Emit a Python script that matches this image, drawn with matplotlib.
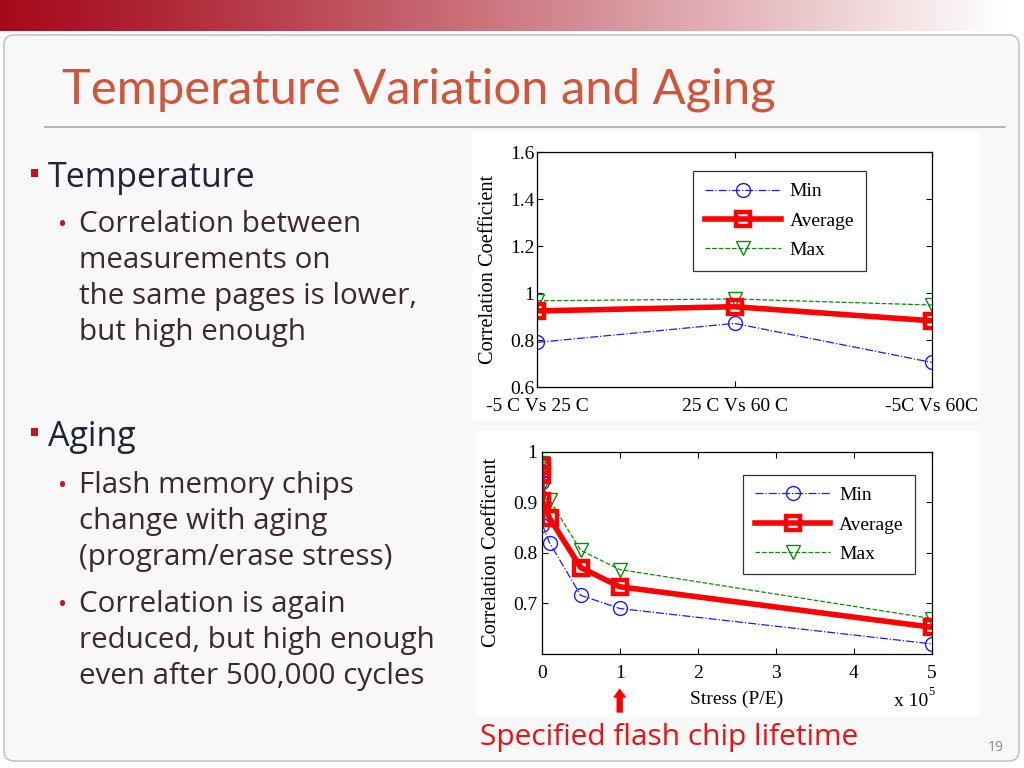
import numpy as np
import matplotlib
matplotlib.use("Agg")
import matplotlib.pyplot as plt
from matplotlib.patches import FancyBboxPatch, Rectangle
from matplotlib.lines import Line2D

# ---------------- data ----------------
temp_categories = ["-5 C Vs 25 C", "25 C Vs 60 C", "-5C Vs 60C"]
temp_min = [0.791, 0.872, 0.706]
temp_avg = [0.925, 0.943, 0.883]
temp_max = [0.968, 0.976, 0.950]
temp_yticks = [0.6, 0.8, 1.0, 1.2, 1.4, 1.6]
temp_yticklabels = ["0.6", "0.8", "1", "1.2", "1.4", "1.6"]

stress_x = [0, 0.001, 0.01, 0.1, 0.5, 1, 5]          # x 10^5 P/E cycles
stress_min = [0.962, 0.940, 0.855, 0.820, 0.716, 0.690, 0.620]
stress_avg = [0.971, 0.954, 0.903, 0.869, 0.771, 0.733, 0.653]
stress_max = [0.978, 0.965, 0.933, 0.905, 0.805, 0.767, 0.670]
stress_xticks = [0, 1, 2, 3, 4, 5]
stress_yticks = [0.7, 0.8, 0.9, 1.0]
stress_yticklabels = ["0.7", "0.8", "0.9", "1"]
lifetime_x = 1

title = "Temperature Variation and Aging"
bullets = [
    (1, "Temperature"),
    (2, "Correlation between"),
    (0, "measurements on"),
    (0, "the same pages is lower,"),
    (0, "but high enough"),
    (1, "Aging"),
    (2, "Flash memory chips"),
    (0, "change with aging"),
    (0, "(program/erase stress)"),
    (2, "Correlation is again"),
    (0, "reduced, but high enough"),
    (0, "even after 500,000 cycles"),
]
bullet_baselines = [187, 232, 268, 304, 340, 446, 493, 529, 565, 612, 648, 684]

W, H = 1024, 768
fig = plt.figure(figsize=(W / 100, H / 100), dpi=100)
fig.patch.set_facecolor("white")

def fx(px):
    return px / W

def fy(py):
    return 1 - py / H

# ---------------- slide background ----------------
bg = fig.add_axes([0, 0, 1, 1], zorder=-10)
bg.set_xlim(0, W)
bg.set_ylim(H, 0)
bg.axis("off")

# gradient bar
grad_ax = fig.add_axes([0, fy(31), 1, 31 / H], zorder=-9)
t = np.linspace(0, 1, 512)
t = np.clip(t / 0.98, 0, 1) ** 1.15
c0 = np.array([165, 10, 28]) / 255
c1 = np.array([1.0, 1.0, 1.0])
img = (c0[None, :] * (1 - t[:, None]) + c1[None, :] * t[:, None])[None, :, :]
grad_ax.imshow(img, aspect="auto", extent=[0, 1, 0, 1])
grad_ax.axis("off")

panel = FancyBboxPatch((4, 35), 1015, 726, boxstyle="round,pad=0,rounding_size=10",
                       facecolor="#f8f8f8", edgecolor="#c4c4c4", linewidth=1.2)
bg.add_patch(panel)
bg.plot([45, 1005], [127, 127], color="#a8a8a8", linewidth=1.2)

# chart backgrounds (white)
bg.add_patch(Rectangle((472, 133), 508, 286, facecolor="white", edgecolor="none"))
bg.add_patch(Rectangle((476, 431), 504, 285, facecolor="white", edgecolor="none"))

# title
fig.text(fx(62), fy(103), title, fontsize=35.2, color="#d0553a",
         family=["Lato", "DejaVu Sans"], va="baseline", ha="left")

# bullets
for (lvl, txt), yb in zip(bullets, bullet_baselines):
    if lvl == 1:
        bg.add_patch(Rectangle((31, yb - 18), 7, 8, facecolor="#c0161e", edgecolor="none"))
        fig.text(fx(48), fy(yb), txt, fontsize=24.5, color="#1f2535",
                 family=["Open Sans", "DejaVu Sans"], va="baseline")
    else:
        if lvl == 2:
            fig.text(fx(58), fy(yb), "\u2022", fontsize=17, color="#c0161e",
                     family=["Open Sans", "DejaVu Sans"], va="baseline")
        fig.text(fx(79), fy(yb), txt, fontsize=21.3, color="#3c2a2a",
                 family=["Open Sans", "DejaVu Sans"], va="baseline")

fig.text(fx(480), fy(745), "Specified flash chip lifetime", fontsize=21.5, color="#ee1111",
         family=["Open Sans", "DejaVu Sans"], va="baseline")
fig.text(fx(1004), fy(751), "19", fontsize=10, color="#8a8a8a",
         family=["Open Sans", "DejaVu Sans"], va="baseline", ha="right")

serif = ["Liberation Serif", "DejaVu Serif"]
blue = "#1a1aff"
red = "#ff0000"
green = "#0a8a0a"

def style_axes(ax):
    ax.tick_params(direction="in", top=True, right=True, length=4, width=0.8,
                   labelsize=14, pad=3)
    for lab in ax.get_xticklabels() + ax.get_yticklabels():
        lab.set_family(serif)
    for s in ax.spines.values():
        s.set_linewidth(0.9)
    ax.set_facecolor("white")

def plot_series(ax, x, mn, av, mx):
    ax.plot(x, mn, linestyle="-.", color=blue, linewidth=0.9, marker="o",
            markersize=10, markerfacecolor="none", markeredgecolor=blue, mew=1.0, label="Min")
    ax.plot(x, mx, linestyle="--", color=green, linewidth=0.9, marker="v",
            markersize=10, markerfacecolor="none", markeredgecolor=green, mew=1.0, label="Max")
    ax.plot(x, av, linestyle="-", color=red, linewidth=4.0, marker="s",
            markersize=10, markerfacecolor="none", markeredgecolor=red, mew=3.2, label="Average")

def make_legend(ax, loc):
    h = [Line2D([], [], linestyle="-.", color=blue, lw=0.9, marker="o", ms=10, mfc="none", mec=blue),
         Line2D([], [], linestyle="-", color=red, lw=4.0, marker="s", ms=10, mfc="none", mec=red, mew=3.2),
         Line2D([], [], linestyle="--", color=green, lw=0.9, marker="v", ms=10, mfc="none", mec=green)]
    leg = ax.legend(h, ["Min", "Average", "Max"], loc="upper left", bbox_to_anchor=loc,
                    prop={"family": serif, "size": 14}, frameon=True, fancybox=False,
                    edgecolor="black", handlelength=3.9, borderpad=0.6, labelspacing=0.6,
                    handletextpad=0.45, borderaxespad=0)
    leg.get_frame().set_linewidth(0.9)

# ---------------- top chart ----------------
ax1 = fig.add_axes([fx(537.3), fy(387.3), fx(931.7 - 537.3), (387.3 - 152.3) / H])
xc = np.arange(len(temp_categories))
plot_series(ax1, xc, temp_min, temp_avg, temp_max)
ax1.set_xlim(0, 2)
ax1.set_ylim(0.6, 1.6)
ax1.set_xticks(xc)
ax1.set_xticklabels(temp_categories)
ax1.set_yticks(temp_yticks)
ax1.set_yticklabels(temp_yticklabels)
ax1.set_ylabel("Correlation Coefficient", family=serif, fontsize=14.7, labelpad=9)
style_axes(ax1)
ax1.tick_params(axis="x", pad=8)
ax1.tick_params(axis="y", pad=2)
make_legend(ax1, (0.395, 0.920))

# ---------------- bottom chart ----------------
ax2 = fig.add_axes([fx(541.7), fy(654), fx(931.7 - 541.7), (654 - 451.7) / H])
plot_series(ax2, stress_x, stress_min, stress_avg, stress_max)
ax2.set_xlim(0, 5)
ax2.set_ylim(0.6, 1.0)
ax2.set_xticks(stress_xticks)
ax2.set_yticks(stress_yticks)
ax2.set_yticklabels(stress_yticklabels)
ax2.set_ylabel("Correlation Coefficient", family=serif, fontsize=14.7, labelpad=9)
ax2.set_xlabel("Stress (P/E)", family=serif, fontsize=14, labelpad=6)
style_axes(ax2)
ax2.tick_params(axis="x", pad=8)
ax2.tick_params(axis="y", pad=3)
ax2.text(0.99, -0.257, "x 10", transform=ax2.transAxes, ha="right", va="baseline",
         family=serif, fontsize=14)
ax2.text(0.992, -0.205, "5", transform=ax2.transAxes, ha="left", va="baseline",
         family=serif, fontsize=9)
make_legend(ax2, (0.516, 0.885))

# arrow marking specified lifetime
ax2.annotate("", xy=(lifetime_x, -0.170), xytext=(lifetime_x, -0.290),
             xycoords=("data", "axes fraction"), textcoords=("data", "axes fraction"),
             arrowprops=dict(arrowstyle="simple,head_length=0.55,head_width=0.8,tail_width=0.38",
                             color=red, lw=0, shrinkA=0, shrinkB=0, mutation_scale=12),
             annotation_clip=False)

fig.savefig("out.png", dpi=100, facecolor=fig.get_facecolor())
